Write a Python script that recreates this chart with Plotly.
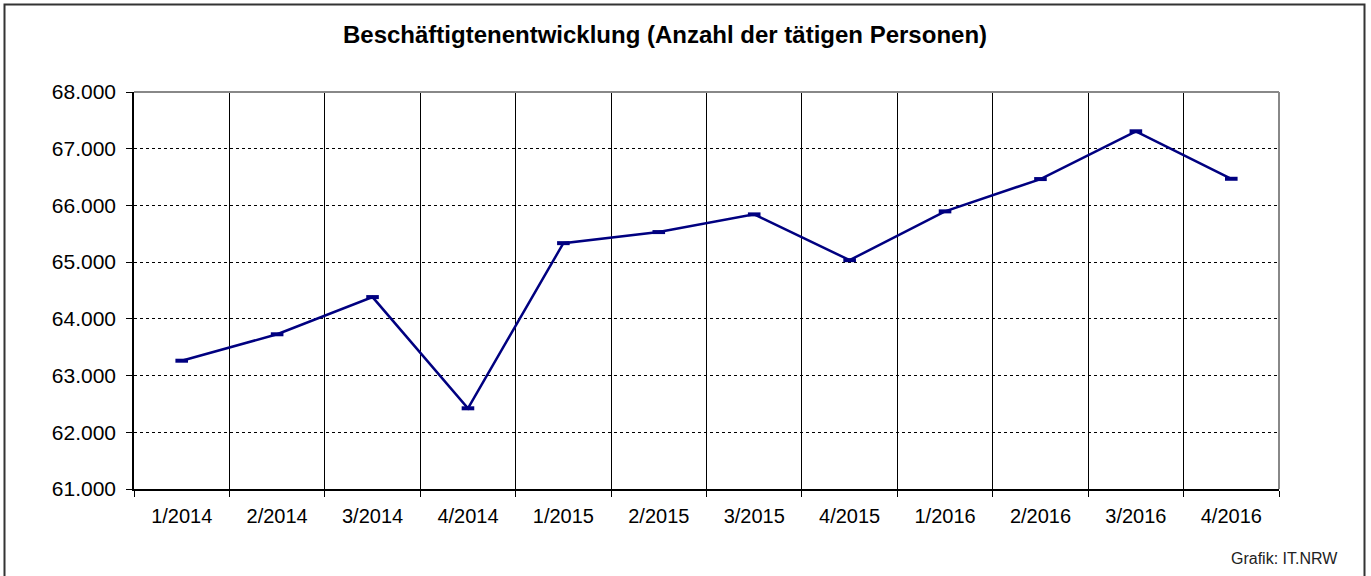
import plotly.graph_objects as go

quarters = ["1/2014", "2/2014", "3/2014", "4/2014", "1/2015", "2/2015",
            "3/2015", "4/2015", "1/2016", "2/2016", "3/2016", "4/2016"]
employees = [63262, 63728, 64384, 62423, 65335, 65530,
             65842, 65035, 65895, 66465, 67307, 66470]
y_ticks = [61000, 62000, 63000, 64000, 65000, 66000, 67000, 68000]
y_tick_labels = ["61.000", "62.000", "63.000", "64.000", "65.000", "66.000", "67.000", "68.000"]

W, H = 1371, 576
ML, MR, MT, MB = 134, 92, 92, 87
PW, PH = W - ML - MR, H - MT - MB

fig = go.Figure()
fig.add_trace(go.Scatter(
    x=quarters, y=employees, mode="lines+markers",
    line=dict(color="#000080", width=2.5),
    marker=dict(symbol="line-ew", size=9, color="#000080",
                line=dict(color="#000080", width=4)),
    cliponaxis=False, showlegend=False,
))

def px_x(p):
    return (p - ML) / PW

def px_y(p):
    return 1 - (p - MT) / PH

shapes = [
    dict(type="rect", xref="paper", yref="paper",
         x0=px_x(4.5), x1=px_x(1364.5), y0=px_y(600), y1=px_y(4.5),
         line=dict(color="#333333", width=2), layer="above"),
    dict(type="line", xref="paper", yref="paper", x0=0, x1=1, y0=1, y1=1,
         line=dict(color="#888888", width=2), layer="above"),
    dict(type="line", xref="paper", yref="paper", x0=1, x1=1, y0=0, y1=1,
         line=dict(color="#888888", width=2), layer="above"),
]

fig.update_layout(
    width=W, height=H,
    margin=dict(l=ML, r=MR, t=MT, b=MB),
    paper_bgcolor="white", plot_bgcolor="white",
    font=dict(family="Liberation Sans, Arial, sans-serif", color="black", size=20),
    title=dict(text="<b>Beschäftigtenentwicklung (Anzahl der tätigen Personen)</b>",
               x=665 / W, xref="container", xanchor="center",
               y=1 - 35 / H, yref="container", yanchor="middle",
               font=dict(size=24, color="black")),
    shapes=shapes,
    annotations=[dict(text="Grafik: IT.NRW", xref="paper", yref="paper",
                      x=px_x(1340), y=px_y(558), xanchor="right", yanchor="middle",
                      showarrow=False, font=dict(size=16, color="#222222"))],
)

fig.update_xaxes(
    type="category", tickson="boundaries",
    showgrid=True, gridcolor="black", gridwidth=1,
    showline=True, linecolor="black", linewidth=1.5,
    ticks="outside", ticklen=6, tickcolor="black", ticklabelstandoff=8,
    tickfont=dict(size=20),
    range=[-0.5, 11.5], fixedrange=True, zeroline=False,
)
fig.update_yaxes(
    range=[61000, 68000], tickvals=y_ticks, ticktext=y_tick_labels,
    showgrid=True, gridcolor="black", gridwidth=1, griddash="dot",
    showline=True, linecolor="black", linewidth=1.5,
    ticks="outside", ticklen=6, tickcolor="black", ticklabelstandoff=6,
    tickfont=dict(size=21),
    zeroline=False, fixedrange=True,
)

fig.write_html("out.html", config={"displayModeBar": False},
               post_script="document.body.style.margin='0';document.body.style.overflow='hidden';")
